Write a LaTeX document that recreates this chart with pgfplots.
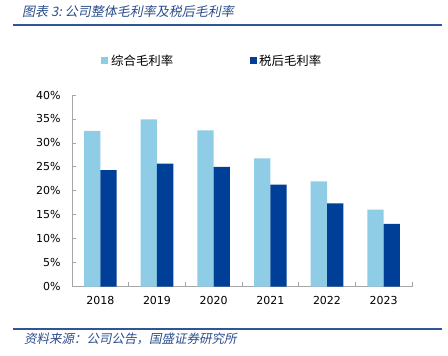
\documentclass[border=0pt]{standalone}
\usepackage{pgfplots}
\pgfplotsset{compat=1.18}
\usepackage{fontspec}
\setmainfont{DejaVu Sans}
\newfontfamily\cjk{Noto Sans CJK SC}
\newfontfamily\cjkit[FakeSlant=0.2]{Noto Sans CJK SC}
\definecolor{lightbar}{HTML}{8ECDE5}
\definecolor{darkbar}{HTML}{003F97}
\definecolor{titleblue}{HTML}{2B4C8C}
\definecolor{rule}{HTML}{2F5597}
\begin{document}
\begin{tikzpicture}
\path[use as bounding box] (0pt,0pt) rectangle (448pt,356pt);
\node[anchor=west, text=titleblue, font=\cjkit\fontsize{13}{15}\selectfont, inner sep=0] at (22pt,344pt) {图表 3:\ 公司整体毛利率及税后毛利率};
\draw[rule, line width=1.4pt] (13pt,331pt) -- (442pt,331pt);
\draw[rule, line width=1.4pt] (13pt,27pt) -- (442pt,27pt);
\node[anchor=west, text=titleblue, font=\cjkit\fontsize{12.5}{14}\selectfont, inner sep=0] at (24pt,17pt) {资料来源：公司公告，国盛证券研究所};
\fill[lightbar] (101pt,291.5pt) rectangle (108pt,298.5pt);
\node[anchor=west, font=\cjk\fontsize{12.4}{14}\selectfont, inner sep=0] at (111pt,295pt) {综合毛利率};
\fill[darkbar] (250pt,291.5pt) rectangle (257pt,298.5pt);
\node[anchor=west, font=\cjk\fontsize{12.4}{14}\selectfont, inner sep=0] at (259pt,295pt) {税后毛利率};
\begin{axis}[
  at={(72pt,69.3pt)}, anchor=south west,
  scale only axis, width=340pt, height=191.7pt,
  ymin=0, ymax=40, xmin=-0.5, xmax=5.5,
  ybar=0pt, bar width=16.3pt,
  axis x line*=bottom, axis y line*=left,
  axis line style={draw=gray!70, line width=0.8pt},
  xtick={0,...,5},
  xticklabels={2018,2019,2020,2021,2022,2023},
  minor xtick={-0.5,0.5,...,5.5},
  major x tick style={draw=none},
  minor x tick style={draw=gray!70, line width=0.8pt},
  minor tick length=5pt,
  ytick={0,5,...,40},
  yticklabel={\pgfmathprintnumber{\tick}\%},
  major y tick style={draw=gray!70, line width=0.8pt},
  major tick length=4pt,
  tick align=inside,
  ticklabel style={font=\fontsize{11}{13}\selectfont},
  /pgf/number format/assume math mode=true,
  yticklabel style={xshift=-8pt},
  xticklabel style={yshift=-6pt},
]
\addplot[fill=lightbar, draw=none] coordinates {(0,32.5) (1,34.9) (2,32.6) (3,26.8) (4,22.0) (5,16.1)};
\addplot[fill=darkbar, draw=none] coordinates {(0,24.3) (1,25.7) (2,25.0) (3,21.3) (4,17.4) (5,13.1)};
\end{axis}
\end{tikzpicture}
\end{document}
